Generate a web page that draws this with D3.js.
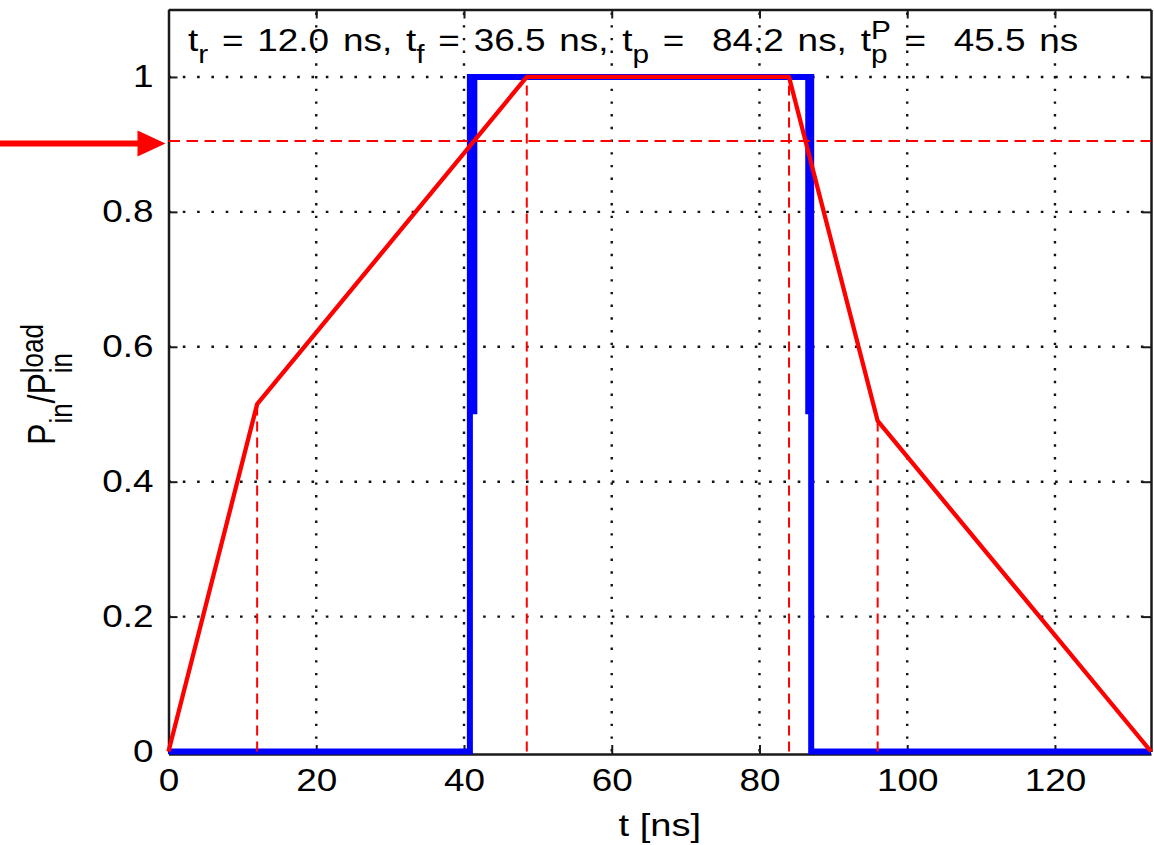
<!DOCTYPE html>
<html>
<head>
<meta charset="utf-8">
<script src="https://cdn.jsdelivr.net/npm/d3@7"></script>
<style>
  html, body { margin: 0; padding: 0; background: #fff; }
  svg { display: block; }
  text { font-family: "Liberation Sans", Arial, Helvetica, sans-serif; fill: #000; white-space: pre; }
</style>
</head>
<body>
<svg id="chart" width="1154" height="845"></svg>
<script>
// Normalised input power P_in / P_in^load versus time t [ns]

const xTicks = [0, 20, 40, 60, 80, 100, 120];
const yTicks = [0, 0.2, 0.4, 0.6, 0.8, 1];
const yTickLabels = ["0", "0.2", "0.4", "0.6", "0.8", "1"];
const xDomain = [0, 133];
const yDomain = [0, 1.1];

// red ramp: rise, flat top, fall
const rampT = [0, 12.0, 48.5, 84.0, 96.0, 133.0];
const rampP = [0, 0.515, 1, 1, 0.49, 0];

// blue rectangular pulse
const pulseT = [0, 40.8, 40.8, 87.0, 87.0, 133.0];
const pulseP = [0, 0, 1, 1, 0, 0];
// second trace of the pulse edges over the upper half
const edgeT = [41.4, 86.6];
const edgeFrom = 0.5;
const edgeTo = 1;

// horizontal reference level
const threshold = 0.905;

// dashed drop lines at the inner corners of the ramp
const cornerIdx = [1, 2, 3, 4];

const SX = 1.19;      // glyphs are drawn wider than tall
const FS = 31;        // tick label size
const SUB = 25;       // sub/superscript size

const svg = d3.select("#chart");

const x = d3.scaleLinear().domain(xDomain).range([168.5, 1151]);
const y = d3.scaleLinear().domain(yDomain).range([751.5, 9.5]);

const pLeft = x.range()[0], pRight = x.range()[1];
const pTop = y.range()[1], pBottom = y.range()[0];

// ---- dotted grid ----
const grid = svg.append("g").attr("class", "grid");
grid.selectAll("line.gx").data(xTicks.filter(d => d > 0)).join("line")
  .attr("class", "gx")
  .attr("x1", d => x(d)).attr("x2", d => x(d))
  .attr("y1", pBottom).attr("y2", pTop)
  .attr("stroke", "#111").attr("stroke-width", 2.4)
  .attr("stroke-dasharray", "2.4,10.3");
grid.selectAll("line.gy").data(yTicks.filter(d => d > 0)).join("line")
  .attr("class", "gy")
  .attr("x1", pLeft).attr("x2", pRight)
  .attr("y1", d => y(d)).attr("y2", d => y(d))
  .attr("stroke", "#111").attr("stroke-width", 2.4)
  .attr("stroke-dasharray", "2.6,11.7");

// ---- axes (box with inward ticks) ----
function styleAxis(g) {
  g.attr("font-size", FS).attr("font-family", '"Liberation Sans", Arial, sans-serif');
  g.select(".domain").attr("stroke", "#1a1a1a").attr("stroke-width", 2.5);
  g.selectAll(".tick line").attr("stroke", "#1a1a1a").attr("stroke-width", 2);
  g.selectAll(".tick text").attr("fill", "#000").attr("transform", `scale(${SX},1)`);
}

svg.append("g")
  .attr("transform", `translate(0,${pBottom + 2.5})`)
  .call(d3.axisBottom(x).tickValues(xTicks).tickSize(-9).tickSizeOuter(0)
        .tickPadding(15).tickFormat(d3.format("d")))
  .call(styleAxis);

svg.append("g")
  .attr("transform", `translate(0,${pTop})`)
  .call(d3.axisTop(x).tickValues(xTicks).tickSize(-9).tickSizeOuter(0).tickFormat(""))
  .call(styleAxis);

svg.append("g")
  .attr("transform", `translate(${pLeft},0)`)
  .call(d3.axisLeft(y).tickValues(yTicks).tickSize(-9).tickSizeOuter(0)
        .tickPadding(12.6).tickFormat((d, i) => yTickLabels[i]))
  .call(styleAxis);

svg.append("g")
  .attr("transform", `translate(${pRight},0)`)
  .call(d3.axisRight(y).tickValues(yTicks).tickSize(-9).tickSizeOuter(0).tickFormat(""))
  .call(styleAxis);

// ---- data ----
const line = d3.line().x(d => x(d[0])).y(d => y(d[1]));

svg.append("path")
  .datum(d3.zip(pulseT, pulseP))
  .attr("d", line)
  .attr("fill", "none").attr("stroke", "#0000ff").attr("stroke-width", 6)
  .attr("stroke-linejoin", "miter");

svg.selectAll("line.edge").data(edgeT).join("line")
  .attr("class", "edge")
  .attr("x1", d => x(d)).attr("x2", d => x(d))
  .attr("y1", y(edgeFrom)).attr("y2", y(edgeTo))
  .attr("stroke", "#0000ff").attr("stroke-width", 6);

svg.append("path")
  .datum(d3.zip(rampT, rampP))
  .attr("d", line)
  .attr("fill", "none").attr("stroke", "#ff0000").attr("stroke-width", 4.3)
  .attr("stroke-linejoin", "round");

svg.selectAll("line.drop").data(cornerIdx).join("line")
  .attr("class", "drop")
  .attr("x1", i => x(rampT[i])).attr("x2", i => x(rampT[i]))
  .attr("y1", y(0)).attr("y2", i => y(rampP[i]))
  .attr("stroke", "#ff0000").attr("stroke-width", 2)
  .attr("stroke-dasharray", "10,6");

svg.append("line")
  .attr("x1", pLeft).attr("x2", pRight)
  .attr("y1", y(threshold)).attr("y2", y(threshold))
  .attr("stroke", "#ff0000").attr("stroke-width", 2)
  .attr("stroke-dasharray", "11.5,6.5");

// arrow pointing at the reference level
const ay = y(threshold) + 2.5;
svg.append("line")
  .attr("x1", 0).attr("x2", pLeft - 28).attr("y1", ay).attr("y2", ay)
  .attr("stroke", "#ff0000").attr("stroke-width", 6);
svg.append("path")
  .attr("d", `M${pLeft - 3},${ay} L${pLeft - 31},${ay - 13} L${pLeft - 31},${ay + 13} Z`)
  .attr("fill", "#ff0000");

// ---- text with sub/superscripts ----
function rich(textSel, parts, baseSize, smallSize, subDy, supDy) {
  let level = 0, lastW = 0;
  parts.forEach(p => {
    const target = p.k === "sub" ? subDy : p.k === "sup" ? supDy : 0;
    const ts = textSel.append("tspan").text(p.s)
      .attr("font-size", p.k ? smallSize : baseSize)
      .attr("dy", target - level);
    if (p.stack) ts.attr("dx", -lastW);
    level = target;
    lastW = ts.node().getComputedTextLength();
  });
}

const titleParts = [
  { s: "t" }, { s: "r", k: "sub" }, { s: " = 12.0 ns, t" }, { s: "f", k: "sub" },
  { s: " = 36.5 ns, t" }, { s: "p", k: "sub" }, { s: " =  84.2 ns, t" },
  { s: "p", k: "sub" }, { s: "P", k: "sup", stack: true }, { s: " =  45.5 ns" }
];
const title = svg.append("g")
  .attr("transform", `translate(188,51) scale(${SX},1)`)
  .append("text").attr("font-size", FS).attr("word-spacing", 3.0);
rich(title, titleParts, FS, SUB, 12, -12);

// x label
svg.append("g")
  .attr("transform", `translate(${(pLeft + pRight) / 2},836) scale(${SX},1)`)
  .append("text").attr("text-anchor", "middle").attr("font-size", 32)
  .text("t [ns]");

// y label
const ylab = svg.append("g")
  .attr("transform", `translate(55,${(pTop + pBottom) / 2 + 4}) scale(${SX},1) rotate(-90)`)
  .append("text").attr("text-anchor", "middle").attr("font-size", 32);
rich(ylab, [
  { s: "P" }, { s: "in", k: "sub" }, { s: "/P" }, { s: "in", k: "sub" },
  { s: "load", k: "sup", stack: true }
], 32, 26, 14, -10);
</script>
</body>
</html>
